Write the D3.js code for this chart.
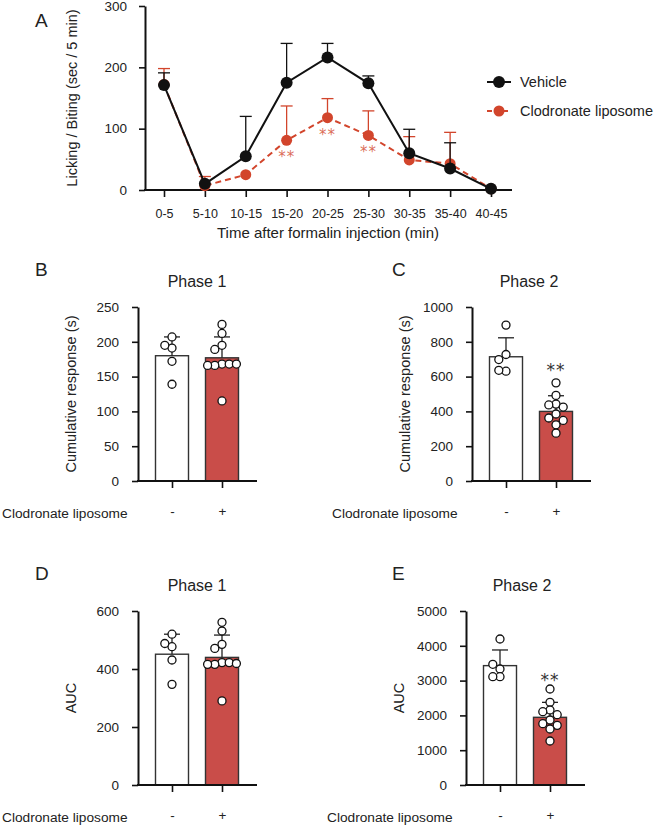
<!DOCTYPE html>
<html>
<head>
<meta charset="utf-8">
<script src="https://cdn.jsdelivr.net/npm/d3@7"></script>
<style>
  body { margin: 0; background: #fff; }
  svg { font-family: "Liberation Sans", Arial, sans-serif; }
  .axis path, .axis line { stroke: #111; }
  .axis text { fill: #222; }
  .sig { font-family: "DejaVu Sans", sans-serif; }
</style>
</head>
<body>
<div id="chart"></div>
<script>
// ---- panel A data (time course) ----
const timeBins = ['0-5', '5-10', '10-15', '15-20', '20-25', '25-30', '30-35', '35-40', '40-45'];
const vehicleMean = [171, 10, 55, 175, 216, 174, 60, 35, 2];
const vehicleErr = [20, 0, 65, 64, 23, 12, 39, 42, 0];
const clodMean = [172, 7, 25, 81, 118, 89, 49, 43, 2];
const clodErr = [26, 15, 0, 56, 31, 40, 38, 51, 0];
const clodSig = ['', '', '', '**', '**', '**', '', '', ''];
const timeTicks = [0, 100, 200, 300];

// ---- panels B-E data ----
const groups = ['-', '+'];
const phase1Cum = [[207, 191, 195, 172, 139], [225, 212, 195, 189, 168, 166, 168, 166, 168, 115]];
const phase1CumMean = [180, 177];
const phase1CumSd = [27, 30];
const phase2Cum = [[896, 727, 698, 631, 636], [564, 492, 442, 437, 425, 385, 362, 348, 323, 275]];
const phase2CumMean = [714, 400];
const phase2CumSd = [109, 90];
const phase1Auc = [[520, 477, 488, 431, 347], [561, 531, 485, 471, 422, 416, 422, 416, 419, 290]];
const phase1AucMean = [451, 440];
const phase1AucSd = [69, 77];
const phase2Auc = [[4195, 3333, 3468, 3112, 3112], [2759, 2376, 2155, 2107, 2020, 1868, 1762, 1714, 1609, 1264]];
const phase2AucMean = [3430, 1945];
const phase2AucSd = [450, 430];

const black = '#111';
const red = '#d2452c';
const barRed = '#c94d49';

const svg = d3.select('#chart').append('svg')
    .attr('width', 658)
    .attr('height', 825);

function styleAxis(g, size) {
    g.attr('class', 'axis');
    g.selectAll('path').attr('stroke-width', 2);
    g.selectAll('line').attr('stroke-width', 1.6);
    g.selectAll('text').attr('font-size', size || 13.5);
}

// =========== Panel A ===========
const ax = d3.scalePoint().domain(timeBins).range([164, 491]);
const ay = d3.scaleLinear().domain([0, 300]).range([190, 6]);

svg.append('text').attr('x', 35).attr('y', 27).attr('font-size', 19).attr('fill', '#222').text('A');

const aY = svg.append('g').attr('transform', 'translate(145,0)')
    .call(d3.axisLeft(ay).tickValues(timeTicks).tickFormat(d3.format('d'))
        .tickSize(6).tickSizeOuter(0).tickPadding(12));
styleAxis(aY);

const aX = svg.append('g').attr('transform', 'translate(0,190)')
    .call(d3.axisBottom(ax).tickSize(7).tickSizeOuter(0).tickPadding(12));
styleAxis(aX, 12.5);
aX.select('.domain').remove();
svg.append('line').attr('x1', 144).attr('x2', 512).attr('y1', 190).attr('y2', 190)
    .attr('stroke', black).attr('stroke-width', 2);

svg.append('text')
    .attr('transform', 'translate(77,98) rotate(-90)')
    .attr('text-anchor', 'middle').attr('font-size', 14.5).attr('fill', '#222')
    .text('Licking / Biting (sec / 5 min)');
svg.append('text')
    .attr('x', 328).attr('y', 238)
    .attr('text-anchor', 'middle').attr('font-size', 15).attr('fill', '#222')
    .text('Time after formalin injection (min)');

function drawSeries(means, errs, color, dashed) {
    const g = svg.append('g');
    timeBins.forEach((t, i) => {
        if (errs[i] <= 0) return;
        const x = ax(t);
        g.append('line').attr('x1', x).attr('x2', x)
            .attr('y1', ay(means[i])).attr('y2', ay(means[i] + errs[i]))
            .attr('stroke', color).attr('stroke-width', 1.3);
        g.append('line').attr('x1', x - 6).attr('x2', x + 6)
            .attr('y1', ay(means[i] + errs[i])).attr('y2', ay(means[i] + errs[i]))
            .attr('stroke', color).attr('stroke-width', 1.3);
    });
    const line = d3.line().x((d, i) => ax(timeBins[i])).y(d => ay(d));
    g.append('path').datum(means)
        .attr('d', line).attr('fill', 'none')
        .attr('stroke', color).attr('stroke-width', 2)
        .attr('stroke-dasharray', dashed ? '6,4' : null);
    g.selectAll('circle').data(means).join('circle')
        .attr('cx', (d, i) => ax(timeBins[i])).attr('cy', d => ay(d))
        .attr('r', dashed ? 5.5 : 6).attr('fill', color);
    return g;
}

drawSeries(clodMean, clodErr, red, true);
drawSeries(vehicleMean, vehicleErr, black, false);

svg.append('g').selectAll('text').data(clodSig).join('text')
    .attr('class', 'sig')
    .attr('x', (d, i) => ax(timeBins[i]))
    .attr('y', (d, i) => ay(clodMean[i]) + 22)
    .attr('text-anchor', 'middle').attr('font-size', 15)
    .attr('fill', red).attr('fill-opacity', 0.8).attr('letter-spacing', 1)
    .text(d => d);

// legend
const legendItems = [
    { label: 'Vehicle', color: black, dashed: false, y: 82 },
    { label: 'Clodronate liposome', color: red, dashed: true, y: 111 }
];
legendItems.forEach(item => {
    svg.append('line').attr('x1', 487).attr('x2', 511).attr('y1', item.y).attr('y2', item.y)
        .attr('stroke', item.color).attr('stroke-width', 2)
        .attr('stroke-dasharray', item.dashed ? '5,3' : null);
    svg.append('circle').attr('cx', 499).attr('cy', item.y).attr('r', item.dashed ? 5.5 : 6)
        .attr('fill', item.color);
    svg.append('text').attr('x', 520).attr('y', item.y + 5)
        .attr('font-size', 14.5).attr('fill', '#222').text(item.label);
});

// =========== Bar panels ===========
function beeswarm(vals, yScale, cx, step) {
    const placed = [];
    const offsets = [0, -1, 1, -2, 2, -3, 3];
    return vals.map(v => {
        const y = yScale(v);
        let x = cx;
        for (const o of offsets) {
            const cand = cx + o * step;
            const hit = placed.some(p => Math.hypot(p.x - cand, p.y - y) < step - 0.5);
            if (!hit) { x = cand; break; }
        }
        placed.push({ x, y });
        return { x, y };
    });
}

function drawBarPanel(p) {
    const y = d3.scaleLinear().domain([0, p.max]).range([p.y0, p.y0 - 174]);
    const x = d3.scalePoint().domain(groups).range([p.axisX + 34, p.axisX + 84]);
    const bw = 33;

    svg.append('text').attr('x', p.letterX).attr('y', p.y0 - 205)
        .attr('font-size', 19).attr('fill', '#222').text(p.letter);
    svg.append('text').attr('x', p.titleX).attr('y', p.y0 - 194)
        .attr('text-anchor', 'middle').attr('font-size', 16).attr('fill', '#222').text(p.title);

    // bars
    groups.forEach((gname, i) => {
        svg.append('rect')
            .attr('x', x(gname) - bw / 2).attr('width', bw)
            .attr('y', y(p.means[i])).attr('height', p.y0 - y(p.means[i]))
            .attr('fill', i === 0 ? '#fff' : barRed)
            .attr('stroke', '#333').attr('stroke-width', 1.4);
        const top = y(p.means[i] + p.sds[i]);
        svg.append('line').attr('x1', x(gname)).attr('x2', x(gname))
            .attr('y1', y(p.means[i])).attr('y2', top)
            .attr('stroke', '#222').attr('stroke-width', 1.3);
        svg.append('line').attr('x1', x(gname) - 8).attr('x2', x(gname) + 8)
            .attr('y1', top).attr('y2', top)
            .attr('stroke', '#222').attr('stroke-width', 1.3);
        const pts = beeswarm(p.points[i], y, x(gname), 7.2);
        svg.append('g').selectAll('circle').data(pts).join('circle')
            .attr('cx', d => d.x).attr('cy', d => d.y).attr('r', 4)
            .attr('fill', '#fff').attr('stroke', '#111').attr('stroke-width', 1.3);
    });

    if (p.sig) {
        svg.append('text').attr('class', 'sig').attr('x', x('+')).attr('y', y(p.sigAt) + 9)
            .attr('text-anchor', 'middle').attr('font-size', 17).attr('fill', '#333')
            .attr('letter-spacing', 1).text(p.sig);
    }

    const gy = svg.append('g').attr('transform', `translate(${p.axisX},0)`)
        .call(d3.axisLeft(y).tickValues(p.ticks).tickFormat(d3.format('d'))
            .tickSize(6).tickSizeOuter(0).tickPadding(13));
    styleAxis(gy);

    const gx = svg.append('g').attr('transform', `translate(0,${p.y0})`)
        .call(d3.axisBottom(x).tickSize(7).tickSizeOuter(0).tickPadding(18));
    styleAxis(gx);
    gx.select('.domain').remove();
    svg.append('line').attr('x1', p.axisX - 1).attr('x2', p.axisX + 119)
        .attr('y1', p.y0).attr('y2', p.y0).attr('stroke', black).attr('stroke-width', 2);

    svg.append('text')
        .attr('transform', `translate(${p.axisX - 62},${p.y0 - 87}) rotate(-90)`)
        .attr('text-anchor', 'middle').attr('font-size', 14.5).attr('fill', '#222')
        .text(p.ylabel);
    svg.append('text').attr('x', p.rowLabelX).attr('y', p.y0 + 37)
        .attr('font-size', 13.7).attr('fill', '#222').text('Clodronate liposome');
}

drawBarPanel({
    letter: 'B', letterX: 35, title: 'Phase 1', titleX: 197,
    axisX: 138, y0: 481, max: 250, ticks: [0, 50, 100, 150, 200, 250],
    means: phase1CumMean, sds: phase1CumSd, points: phase1Cum,
    ylabel: 'Cumulative response (s)', rowLabelX: 2
});
drawBarPanel({
    letter: 'C', letterX: 392, title: 'Phase 2', titleX: 529,
    axisX: 472, y0: 481, max: 1000, ticks: [0, 200, 400, 600, 800, 1000],
    means: phase2CumMean, sds: phase2CumSd, points: phase2Cum,
    ylabel: 'Cumulative response (s)', rowLabelX: 332, sig: '**', sigAt: 655
});
drawBarPanel({
    letter: 'D', letterX: 35, title: 'Phase 1', titleX: 197,
    axisX: 138, y0: 785, max: 600, ticks: [0, 200, 400, 600],
    means: phase1AucMean, sds: phase1AucSd, points: phase1Auc,
    ylabel: 'AUC', rowLabelX: 2
});
drawBarPanel({
    letter: 'E', letterX: 392, title: 'Phase 2', titleX: 522,
    axisX: 466, y0: 785, max: 5000, ticks: [0, 1000, 2000, 3000, 4000, 5000],
    means: phase2AucMean, sds: phase2AucSd, points: phase2Auc,
    ylabel: 'AUC', rowLabelX: 327, sig: '**', sigAt: 3100
});
</script>
</body>
</html>
